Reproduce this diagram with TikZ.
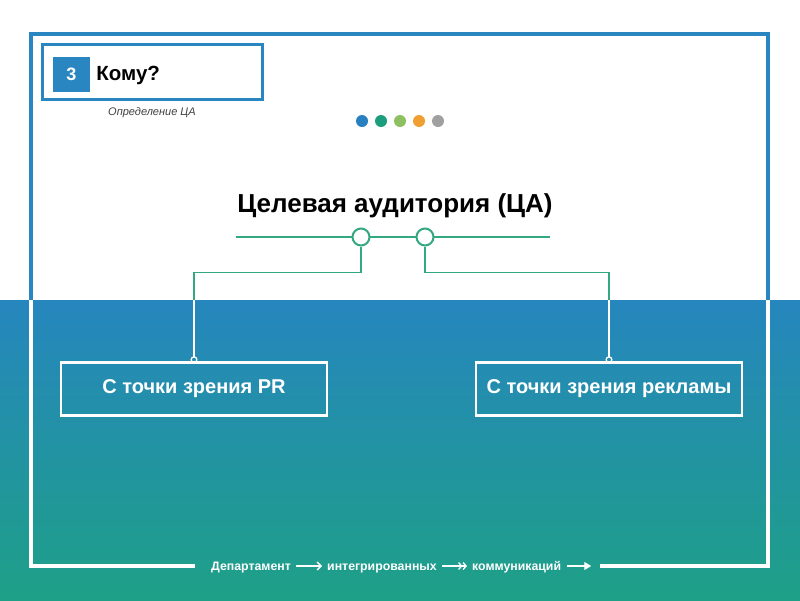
\documentclass[tikz,border=0pt]{standalone}
\usepackage{fontspec}
\setmainfont{Liberation Sans}
\usetikzlibrary{arrows.meta,positioning}
\definecolor{frameblue}{RGB}{42,134,193}
\definecolor{seablue}{RGB}{38,134,190}
\definecolor{seateal}{RGB}{30,160,135}
\definecolor{linegreen}{RGB}{52,168,130}
\definecolor{dotblue}{RGB}{40,128,192}
\definecolor{dotteal}{RGB}{28,158,126}
\definecolor{dotgreen}{RGB}{140,192,96}
\definecolor{dotorange}{RGB}{240,160,48}
\definecolor{dotgrey}{RGB}{160,160,160}
\tikzset{
  hub/.style={circle,draw=linegreen,line width=2pt,fill=white,minimum size=17pt,inner sep=0pt},
  viewbox/.style={draw=white,line width=2.5pt,minimum width=266pt,minimum height=53pt,text=white,font=\bfseries\fontsize{20}{24}\selectfont},
  footword/.style={text=white,font=\bfseries\fontsize{12.3}{14}\selectfont,inner sep=0pt,anchor=base west},
  link/.style={line width=1.6pt,-{Circle[open,length=7pt,width=7pt,line width=1.3pt]}},
  footarrow/.style={white,line width=1.3pt},
}
\begin{document}
\begin{tikzpicture}[x=1pt,y=-1pt]
    \useasboundingbox (0,0) rectangle (800,600);
    \fill[white] (0,0) rectangle (800,300);
    \shade[top color=seablue,bottom color=seateal] (0,300) rectangle (800,600);

    % header
    \node[draw=frameblue,line width=3pt,minimum width=220pt,minimum height=55pt] (head) at (152,72) {};
    \node[fill=frameblue,text=white,minimum width=37pt,minimum height=35pt,inner sep=0pt,font=\bfseries\fontsize{18}{20}\selectfont] (num) at (71.5,74.5) {3};
    \node[right=6pt of num,inner sep=0pt,font=\bfseries\fontsize{20.5}{24}\selectfont,yshift=-1pt] (who) {Кому?};
    \node[font=\itshape\fontsize{11}{13}\selectfont,text=black!75] (sub) at (152,113) {Определение ЦА};

    \foreach \c [count=\i] in {dotblue,dotteal,dotgreen,dotorange,dotgrey}
        \fill[\c] (343+19*\i,121) circle (6pt);

    \node[font=\bfseries\fontsize{26}{30}\selectfont] (title) at (395,206) {Целевая аудитория (ЦА)};
    \coordinate (barl) at (236,237);
    \coordinate (barr) at (550,237);
    \draw[linegreen,line width=2.5pt] (barl) -- (barr);
    \node[hub] (c1) at (361,237) {};
    \node[hub] (c2) at (425,237) {};

    \node[viewbox] (pr) at (194,389) {С точки зрения PR};
    \node[viewbox] (ad) at (609,389) {С точки зрения рекламы};

    \begin{scope}
        \clip (0,0) rectangle (800,300);
        \draw[link,linegreen] (c1.south) |- ++(0,26) -| ([yshift=-2pt]pr.north);
        \draw[link,linegreen] (c2.south) |- ++(0,26) -| ([yshift=-2pt]ad.north);
    \end{scope}
    \begin{scope}
        \clip (0,300) rectangle (800,600);
        \draw[link,white] (c1.south) |- ++(0,26) -| ([yshift=-2pt]pr.north);
        \draw[link,white] (c2.south) |- ++(0,26) -| ([yshift=-2pt]ad.north);
    \end{scope}

    % footer
    \node[footword] (w1) at (211,570) {Департамент};
    \node[footword] (w2) at ([xshift=36pt]w1.base east) {интегрированных};
    \node[footword] (w3) at ([xshift=35pt]w2.base east) {коммуникаций};
    \coordinate (wend) at ([xshift=30pt,yshift=4pt]w3.base east);
    \draw[footarrow,-{Straight Barb[length=4pt,width=8pt]}] ([xshift=5pt,yshift=4pt]w1.base east) -- ([xshift=-5pt,yshift=4pt]w2.base west);
    \draw[footarrow,-{Straight Barb[length=3pt,width=7pt]Straight Barb[length=3pt,width=7pt]}] ([xshift=5pt,yshift=4pt]w2.base east) -- ([xshift=-5pt,yshift=4pt]w3.base west);
    \draw[footarrow,-{Triangle[length=7pt,width=8pt]}] ([xshift=6pt,yshift=4pt]w3.base east) -- (wend);

    % frame
    \draw[frameblue,line width=4pt] (31,300) |- (768,34) -- (768,300);
    \draw[white,line width=4pt] (31,300) |- (195,566);
    \draw[white,line width=4pt] (600,566) -| (768,300);
\end{tikzpicture}
\end{document}
